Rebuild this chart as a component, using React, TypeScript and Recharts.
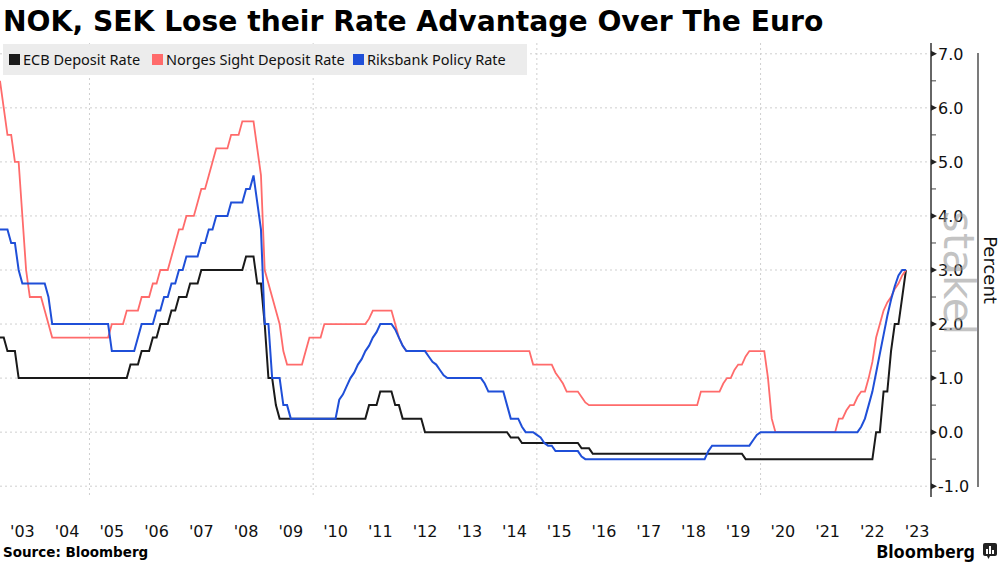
import React from 'react';
import { LineChart, Line, XAxis, YAxis, CartesianGrid } from 'recharts';

// monthly values, Jan 2003 .. Apr 2023 (one row per year)
const ecbRate: number[] = [
	1.75, 1.75, 1.5, 1.5, 1.5, 1, 1, 1, 1, 1, 1, 1, // 2003
	1, 1, 1, 1, 1, 1, 1, 1, 1, 1, 1, 1, // 2004
	1, 1, 1, 1, 1, 1, 1, 1, 1, 1, 1, 1.25, // 2005
	1.25, 1.25, 1.5, 1.5, 1.5, 1.75, 1.75, 2, 2, 2, 2.25, 2.25, // 2006
	2.5, 2.5, 2.5, 2.75, 2.75, 2.75, 3, 3, 3, 3, 3, 3, // 2007
	3, 3, 3, 3, 3, 3, 3.25, 3.25, 3.25, 2.75, 2.75, 2, // 2008
	1, 1, 0.5, 0.25, 0.25, 0.25, 0.25, 0.25, 0.25, 0.25, 0.25, 0.25, // 2009
	0.25, 0.25, 0.25, 0.25, 0.25, 0.25, 0.25, 0.25, 0.25, 0.25, 0.25, 0.25, // 2010
	0.25, 0.25, 0.25, 0.5, 0.5, 0.5, 0.75, 0.75, 0.75, 0.75, 0.5, 0.5, // 2011
	0.25, 0.25, 0.25, 0.25, 0.25, 0.25, 0, 0, 0, 0, 0, 0, // 2012
	0, 0, 0, 0, 0, 0, 0, 0, 0, 0, 0, 0, // 2013
	0, 0, 0, 0, 0, -0.1, -0.1, -0.1, -0.2, -0.2, -0.2, -0.2, // 2014
	-0.2, -0.2, -0.2, -0.2, -0.2, -0.2, -0.2, -0.2, -0.2, -0.2, -0.2, -0.2, // 2015
	-0.3, -0.3, -0.3, -0.4, -0.4, -0.4, -0.4, -0.4, -0.4, -0.4, -0.4, -0.4, // 2016
	-0.4, -0.4, -0.4, -0.4, -0.4, -0.4, -0.4, -0.4, -0.4, -0.4, -0.4, -0.4, // 2017
	-0.4, -0.4, -0.4, -0.4, -0.4, -0.4, -0.4, -0.4, -0.4, -0.4, -0.4, -0.4, // 2018
	-0.4, -0.4, -0.4, -0.4, -0.4, -0.4, -0.4, -0.4, -0.5, -0.5, -0.5, -0.5, // 2019
	-0.5, -0.5, -0.5, -0.5, -0.5, -0.5, -0.5, -0.5, -0.5, -0.5, -0.5, -0.5, // 2020
	-0.5, -0.5, -0.5, -0.5, -0.5, -0.5, -0.5, -0.5, -0.5, -0.5, -0.5, -0.5, // 2021
	-0.5, -0.5, -0.5, -0.5, -0.5, -0.5, -0.5, 0, 0, 0.75, 0.75, 1.5, // 2022
	2, 2, 2.5, 3, // 2023
];

const norgesRate: number[] = [
	6.5, 6, 5.5, 5.5, 5, 5, 4, 3, 2.5, 2.5, 2.5, 2.5, // 2003
	2.25, 2, 1.75, 1.75, 1.75, 1.75, 1.75, 1.75, 1.75, 1.75, 1.75, 1.75, // 2004
	1.75, 1.75, 1.75, 1.75, 1.75, 1.75, 2, 2, 2, 2, 2.25, 2.25, // 2005
	2.25, 2.25, 2.5, 2.5, 2.5, 2.75, 2.75, 3, 3, 3, 3.25, 3.5, // 2006
	3.75, 3.75, 4, 4, 4, 4.25, 4.5, 4.5, 4.75, 5, 5.25, 5.25, // 2007
	5.25, 5.25, 5.5, 5.5, 5.5, 5.75, 5.75, 5.75, 5.75, 5.25, 4.75, 3, // 2008
	2.75, 2.5, 2.25, 2, 1.5, 1.25, 1.25, 1.25, 1.25, 1.25, 1.5, 1.75, // 2009
	1.75, 1.75, 1.75, 2, 2, 2, 2, 2, 2, 2, 2, 2, // 2010
	2, 2, 2, 2.1, 2.25, 2.25, 2.25, 2.25, 2.25, 2.25, 2, 1.75, // 2011
	1.6, 1.5, 1.5, 1.5, 1.5, 1.5, 1.5, 1.5, 1.5, 1.5, 1.5, 1.5, // 2012
	1.5, 1.5, 1.5, 1.5, 1.5, 1.5, 1.5, 1.5, 1.5, 1.5, 1.5, 1.5, // 2013
	1.5, 1.5, 1.5, 1.5, 1.5, 1.5, 1.5, 1.5, 1.5, 1.5, 1.5, 1.25, // 2014
	1.25, 1.25, 1.25, 1.25, 1.25, 1.1, 1, 0.9, 0.75, 0.75, 0.75, 0.75, // 2015
	0.65, 0.55, 0.5, 0.5, 0.5, 0.5, 0.5, 0.5, 0.5, 0.5, 0.5, 0.5, // 2016
	0.5, 0.5, 0.5, 0.5, 0.5, 0.5, 0.5, 0.5, 0.5, 0.5, 0.5, 0.5, // 2017
	0.5, 0.5, 0.5, 0.5, 0.5, 0.5, 0.5, 0.5, 0.75, 0.75, 0.75, 0.75, // 2018
	0.75, 0.75, 0.9, 1, 1, 1.15, 1.25, 1.25, 1.4, 1.5, 1.5, 1.5, // 2019
	1.5, 1.5, 1, 0.25, 0, 0, 0, 0, 0, 0, 0, 0, // 2020
	0, 0, 0, 0, 0, 0, 0, 0, 0, 0.25, 0.25, 0.4, // 2021
	0.5, 0.5, 0.65, 0.75, 0.75, 1, 1.3, 1.75, 2, 2.25, 2.4, 2.5, // 2022
	2.65, 2.75, 2.9, 3, // 2023
];

const riksbankRate: number[] = [
	3.75, 3.75, 3.75, 3.5, 3.5, 3, 2.75, 2.75, 2.75, 2.75, 2.75, 2.75, // 2003
	2.75, 2.5, 2, 2, 2, 2, 2, 2, 2, 2, 2, 2, // 2004
	2, 2, 2, 2, 2, 2, 1.5, 1.5, 1.5, 1.5, 1.5, 1.5, // 2005
	1.5, 1.75, 2, 2, 2, 2, 2.25, 2.25, 2.5, 2.5, 2.75, 2.75, // 2006
	3, 3, 3.25, 3.25, 3.25, 3.25, 3.5, 3.5, 3.75, 3.75, 4, 4, // 2007
	4, 4, 4.25, 4.25, 4.25, 4.25, 4.5, 4.5, 4.75, 4.25, 3.75, 2, // 2008
	2, 1, 1, 1, 0.5, 0.5, 0.25, 0.25, 0.25, 0.25, 0.25, 0.25, // 2009
	0.25, 0.25, 0.25, 0.25, 0.25, 0.25, 0.25, 0.6, 0.7, 0.85, 1, 1.1, // 2010
	1.25, 1.35, 1.5, 1.6, 1.75, 1.85, 2, 2, 2, 2, 1.9, 1.75, // 2011
	1.6, 1.5, 1.5, 1.5, 1.5, 1.5, 1.5, 1.4, 1.3, 1.25, 1.15, 1.05, // 2012
	1, 1, 1, 1, 1, 1, 1, 1, 1, 1, 0.9, 0.75, // 2013
	0.75, 0.75, 0.75, 0.75, 0.5, 0.25, 0.25, 0.25, 0.1, 0, 0, 0, // 2014
	-0.05, -0.1, -0.2, -0.25, -0.25, -0.35, -0.35, -0.35, -0.35, -0.35, -0.35, -0.35, // 2015
	-0.45, -0.5, -0.5, -0.5, -0.5, -0.5, -0.5, -0.5, -0.5, -0.5, -0.5, -0.5, // 2016
	-0.5, -0.5, -0.5, -0.5, -0.5, -0.5, -0.5, -0.5, -0.5, -0.5, -0.5, -0.5, // 2017
	-0.5, -0.5, -0.5, -0.5, -0.5, -0.5, -0.5, -0.5, -0.5, -0.5, -0.35, -0.25, // 2018
	-0.25, -0.25, -0.25, -0.25, -0.25, -0.25, -0.25, -0.25, -0.25, -0.25, -0.15, -0.05, // 2019
	0, 0, 0, 0, 0, 0, 0, 0, 0, 0, 0, 0, // 2020
	0, 0, 0, 0, 0, 0, 0, 0, 0, 0, 0, 0, // 2021
	0, 0, 0, 0.1, 0.25, 0.5, 0.75, 1.1, 1.45, 1.8, 2.15, 2.45, // 2022
	2.7, 2.9, 3, 3, // 2023
];

const startYear = 2003;
const yearTicks = [
	2003.5, 2004.5, 2005.5, 2006.5, 2007.5, 2008.5, 2009.5, 2010.5, 2011.5, 2012.5,
	2013.5, 2014.5, 2015.5, 2016.5, 2017.5, 2018.5, 2019.5, 2020.5, 2021.5, 2022.5, 2023.5,
];
const gridYears = [2005, 2010, 2015, 2020];
const rateTicks = [-1, -0.5, 0, 0.5, 1, 1.5, 2, 2.5, 3, 3.5, 4, 4.5, 5, 5.5, 6, 6.5, 7];
const gridRates = [-1, 0, 1, 2, 3, 4, 5, 6, 7];

const series = [
	{ key: 'ecb', name: 'ECB Deposit Rate', color: '#1a1a1a', values: ecbRate },
	{ key: 'nok', name: 'Norges Sight Deposit Rate', color: '#ff6b6b', values: norgesRate },
	{ key: 'sek', name: 'Riksbank Policy Rate', color: '#1f4fd8', values: riksbankRate },
];

const data = ecbRate.map((v, i) => ({
	t: startYear + i / 12,
	ecb: v,
	nok: norgesRate[i],
	sek: riksbankRate[i],
}));

const axisFont = 'DejaVu Sans, sans-serif';

const XTick = ({ x, y, payload }: any) => (
	<text x={x} y={y + 40} textAnchor='middle' fontFamily={axisFont} fontSize={16} fill='#111'>
		{"'" + String(Math.floor(payload.value)).slice(2)}
	</text>
);

const YTick = ({ x, y, payload }: any) => {
	const v = payload.value;
	if (v % 1 !== 0) {
		return <line x1={x} x2={x + 5} y1={y} y2={y} stroke='#444' strokeWidth={1} />;
	}
	return (
		<g>
			<path d={`M${x},${y - 3} L${x + 6},${y} L${x},${y + 3} Z`} fill='#222' />
			<text x={x + 7} y={y} dy='0.36em' fontFamily={axisFont} fontSize={16} fill='#111'>
				{v.toFixed(1)}
			</text>
		</g>
	);
};

const legendX = [
	[9, 23],
	[152, 166],
	[353, 367],
];

const App = () => {
	return (
		<div
			style={{
				position: 'absolute',
				left: 0,
				top: 0,
				width: 1003,
				height: 564,
				background: '#fff',
				overflow: 'hidden',
			}}>
			<LineChart
				width={1003}
				height={564}
				data={data}
				margin={{ top: 43, right: 0, bottom: 0, left: 0 }}>
				<CartesianGrid
					stroke='#cfcfcf'
					strokeDasharray='2 3'
					horizontalValues={gridRates}
					verticalValues={gridYears}
				/>
				<XAxis
					dataKey='t'
					type='number'
					domain={[2003, 2023.81]}
					ticks={yearTicks}
					interval={0}
					tick={<XTick />}
					tickSize={0}
					tickMargin={0}
					axisLine={false}
					tickLine={false}
					height={67}
				/>
				<YAxis
					orientation='right'
					type='number'
					domain={[-1.2, 7.2]}
					ticks={rateTicks}
					interval={0}
					tick={<YTick />}
					tickSize={0}
					tickMargin={0}
					tickLine={false}
					axisLine={{ stroke: '#333', strokeWidth: 1.5 }}
					width={72}
				/>
				{series.map((s) => (
					<Line
						key={s.key}
						type='linear'
						dataKey={s.key}
						name={s.name}
						stroke={s.color}
						strokeWidth={s.key === 'nok' ? 1.8 : 2}
						dot={false}
						isAnimationActive={false}
					/>
				))}
			</LineChart>
			<svg
				width={1003}
				height={564}
				style={{ position: 'absolute', left: 0, top: 0, pointerEvents: 'none' }}>
				<text x={3} y={31} fontFamily={axisFont} fontWeight='bold' fontSize={28.2} fill='#000'>
					NOK, SEK Lose their Rate Advantage Over The Euro
				</text>
				<rect x={3} y={44} width={524} height={31} fill='#ececec' />
				{series.map((s, i) => (
					<g key={s.key}>
						<rect x={legendX[i][0]} y={54} width={11} height={11} fill={s.color} />
						<text
							x={legendX[i][1]}
							y={65}
							fontFamily='Noto Sans, sans-serif'
							fontSize={14.5}
							fill='#111'>
							{s.name}
						</text>
					</g>
				))}
				<line x1={978} x2={978} y1={53} y2={487} stroke='#333' strokeWidth={1.3} />
				<text
					transform='translate(984,270) rotate(90)'
					textAnchor='middle'
					fontFamily={axisFont}
					fontSize={18}
					fill='#111'>
					Percent
				</text>
				<text
					transform='translate(944,273) rotate(90)'
					textAnchor='middle'
					fontFamily={axisFont}
					fontSize={42}
					fill='#9a9a9a'
					fillOpacity={0.6}>
					stakel
				</text>
				<text x={3} y={557} fontFamily={axisFont} fontWeight='bold' fontSize={13.5} fill='#000'>
					Source: Bloomberg
				</text>
				<text
					x={975}
					y={558}
					textAnchor='end'
					fontFamily='Noto Sans, sans-serif'
					fontWeight='bold'
					fontSize={18}
					fill='#000'>
					Bloomberg
				</text>
				<rect x={983} y={543} width={14} height={13} rx={2} fill='#222' />
				<path d='M987,556 L990,556 L988.5,559 Z' fill='#222' />
				<rect x={986} y={549} width={2} height={5} fill='#fff' />
				<rect x={989} y={546} width={2} height={8} fill='#fff' />
				<rect x={992} y={550} width={2} height={4} fill='#fff' />
			</svg>
		</div>
	);
};

export default App;
